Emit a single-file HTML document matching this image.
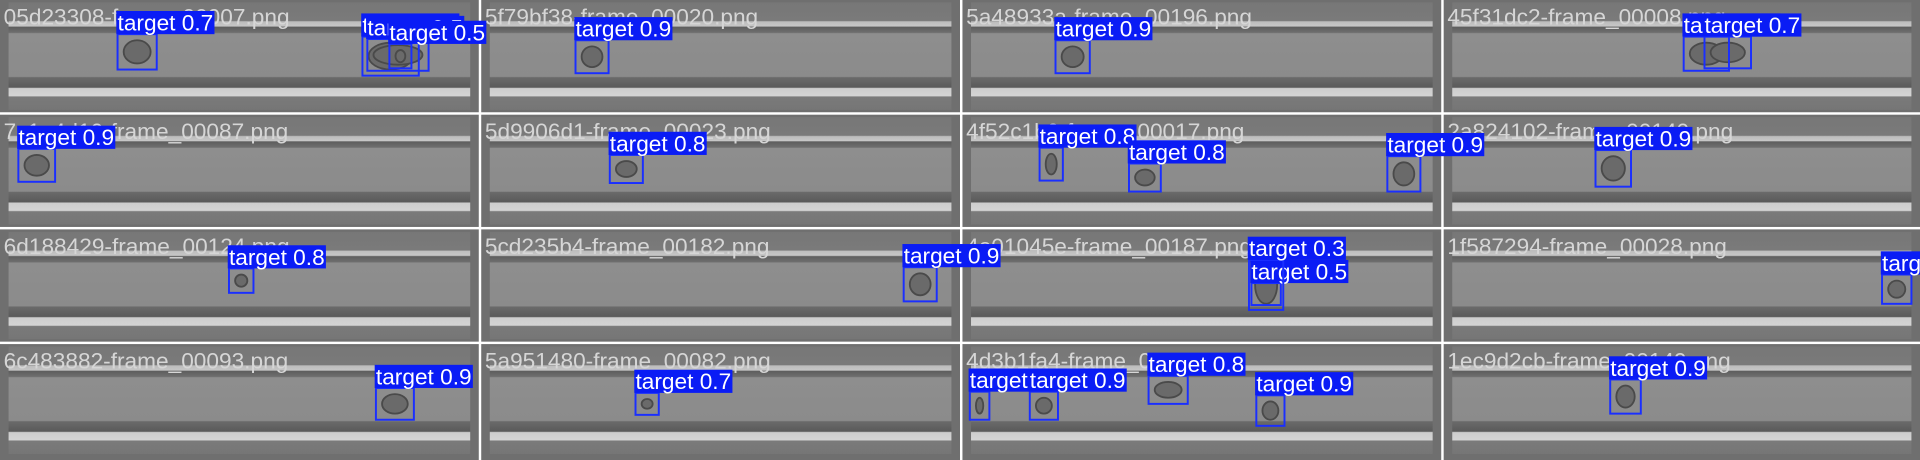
<!DOCTYPE html>
<html><head><meta charset="utf-8"><style>
html,body{margin:0;padding:0;background:#fff;}
svg{display:block;}
text{font-family:"Liberation Sans",Arial,sans-serif;}
</style></head><body>
<svg id="grid" width="1920" height="460" viewBox="0 0 1568 377" preserveAspectRatio="none" xmlns="http://www.w3.org/2000/svg">
<defs>
<linearGradient id="chan" x1="0" y1="0" x2="0" y2="1">
<stop offset="0" stop-color="#777"/><stop offset="0.17" stop-color="#7a7a7a"/>
<stop offset="0.18" stop-color="#bdbdbd"/><stop offset="0.22" stop-color="#c6c6c6"/>
<stop offset="0.23" stop-color="#5e5e5e"/><stop offset="0.28" stop-color="#6e6e6e"/>
<stop offset="0.29" stop-color="#8e8e8e"/><stop offset="0.69" stop-color="#8b8b8b"/>
<stop offset="0.70" stop-color="#6a6a6a"/><stop offset="0.79" stop-color="#5a5a5a"/>
<stop offset="0.80" stop-color="#cdcdcd"/><stop offset="0.87" stop-color="#d4d4d4"/>
<stop offset="0.88" stop-color="#7a7a7a"/><stop offset="1" stop-color="#767676"/>
</linearGradient>
</defs>
<rect x="0" y="0" width="1568" height="377" fill="#ffffff"/>
<g id="tiles"></g>
<g id="cells"></g>
<g id="names"></g>
<g id="boxes"></g>
</svg>
<script>
const NS="http://www.w3.org/2000/svg";
const names=["05d23308-frame_00007.png","5f79bf38-frame_00020.png","5a48933a-frame_00196.png","45f31dc2-frame_00008.png",
"7c1a4d10-frame_00087.png","5d9906d1-frame_00023.png","4f52c1b0-frame_00017.png","2a824102-frame_00140.png",
"6d188429-frame_00124.png","5cd235b4-frame_00182.png","4e01045e-frame_00187.png","1f587294-frame_00028.png",
"6c483882-frame_00093.png","5a951480-frame_00082.png","4d3b1fa4-frame_00110.png","1ec9d2cb-frame_00149.png"];
const colX=[0,393,786,1179];
const rowY=[0,94,188,282];
// detections: [x1,y1,x2,y2,label]
const dets=[
[96,28,128,57,"target 0.7"],[296,30,342,62,"target 0.3"],[300,32,350,58,"target 0.5"],[318,36,336,56,"target 0.5"],
[470,33,497,60,"target 0.9"],[862,33,890,60,"target 0.9"],
[1375,30,1412,58,"target 0.4"],[1392,30,1430,56,"target 0.7"],
[15,122,45,149,"target 0.9"],[498,127,525,150,"target 0.8"],
[849,121,868,148,"target 0.8"],[922,134,948,157,"target 0.8"],[1133,128,1160,157,"target 0.9"],
[1303,123,1332,153,"target 0.9"],
[187,220,207,240,"target 0.8"],[738,219,765,247,"target 0.9"],
[1022,232,1046,250,"target 0.5"],[1020,213,1048,254,"target 0.3"],[1537,225,1561,249,"target 0.7"],
[307,318,338,344,"target 0.9"],[519,322,538,340,"target 0.7"],
[792,321,808,344,"target 0.6"],[841,321,864,344,"target 0.9"],[938,308,970,331,"target 0.8"],[1026,324,1049,349,"target 0.9"],
[1315,311,1340,339,"target 0.9"]];
const tiles=document.getElementById('tiles');
const cells=document.getElementById('cells');
const nameG=document.getElementById('names');
const boxes=document.getElementById('boxes');
function mk(tag,attrs,parent){const e=document.createElementNS(NS,tag);for(const k in attrs)e.setAttribute(k,attrs[k]);parent.appendChild(e);return e;}
let i=0;
rowY.forEach((ty,r)=>{colX.forEach((tx,c)=>{
  const w=(c===3?389:391),h=(r===3?95:92);
  const g=mk('g',{},tiles);
  
  
  mk('rect',{x:tx,y:ty,width:w,height:h,fill:'#6f6f6f'},g);
  mk('rect',{x:tx+7,y:ty+2,width:w-14,height:88,fill:'url(#chan)'},g);
  const t=mk('text',{x:tx+3,y:ty+20,'font-size':18.5,fill:'#d6d6d6'},nameG);
  t.textContent=names[i];
  
  
  i++;
});});
dets.forEach(d=>{
  const [x1,y1,x2,y2,lab]=d;
  const e=mk('ellipse',{cx:(x1+x2)/2,cy:(y1+y2)/2,rx:Math.max(3,(x2-x1)/2-5),ry:Math.max(3,(y2-y1)/2-5),fill:'#6a6a6a',stroke:'#4a4a4a','stroke-width':1.5},cells);
  
  
});
dets.forEach(d=>{
  const [x1,y1,x2,y2,lab]=d;
  const b=mk('rect',{x:x1,y:y1,width:x2-x1,height:y2-y1,fill:'none',stroke:'#1a2fff','stroke-width':1.6},boxes);
  
  
  const bg=mk('rect',{x:x1-1,y:y1-19,width:80,height:19,fill:'#0a1cf5'},boxes);
  
  
  const t=mk('text',{x:x1,y:y1-3,'font-size':18.5,fill:'#ffffff'},boxes);
  t.textContent=lab;
  
  
  try{bg.setAttribute('width',t.getComputedTextLength()+2);}catch(err){}
});
</script>
</body></html>
